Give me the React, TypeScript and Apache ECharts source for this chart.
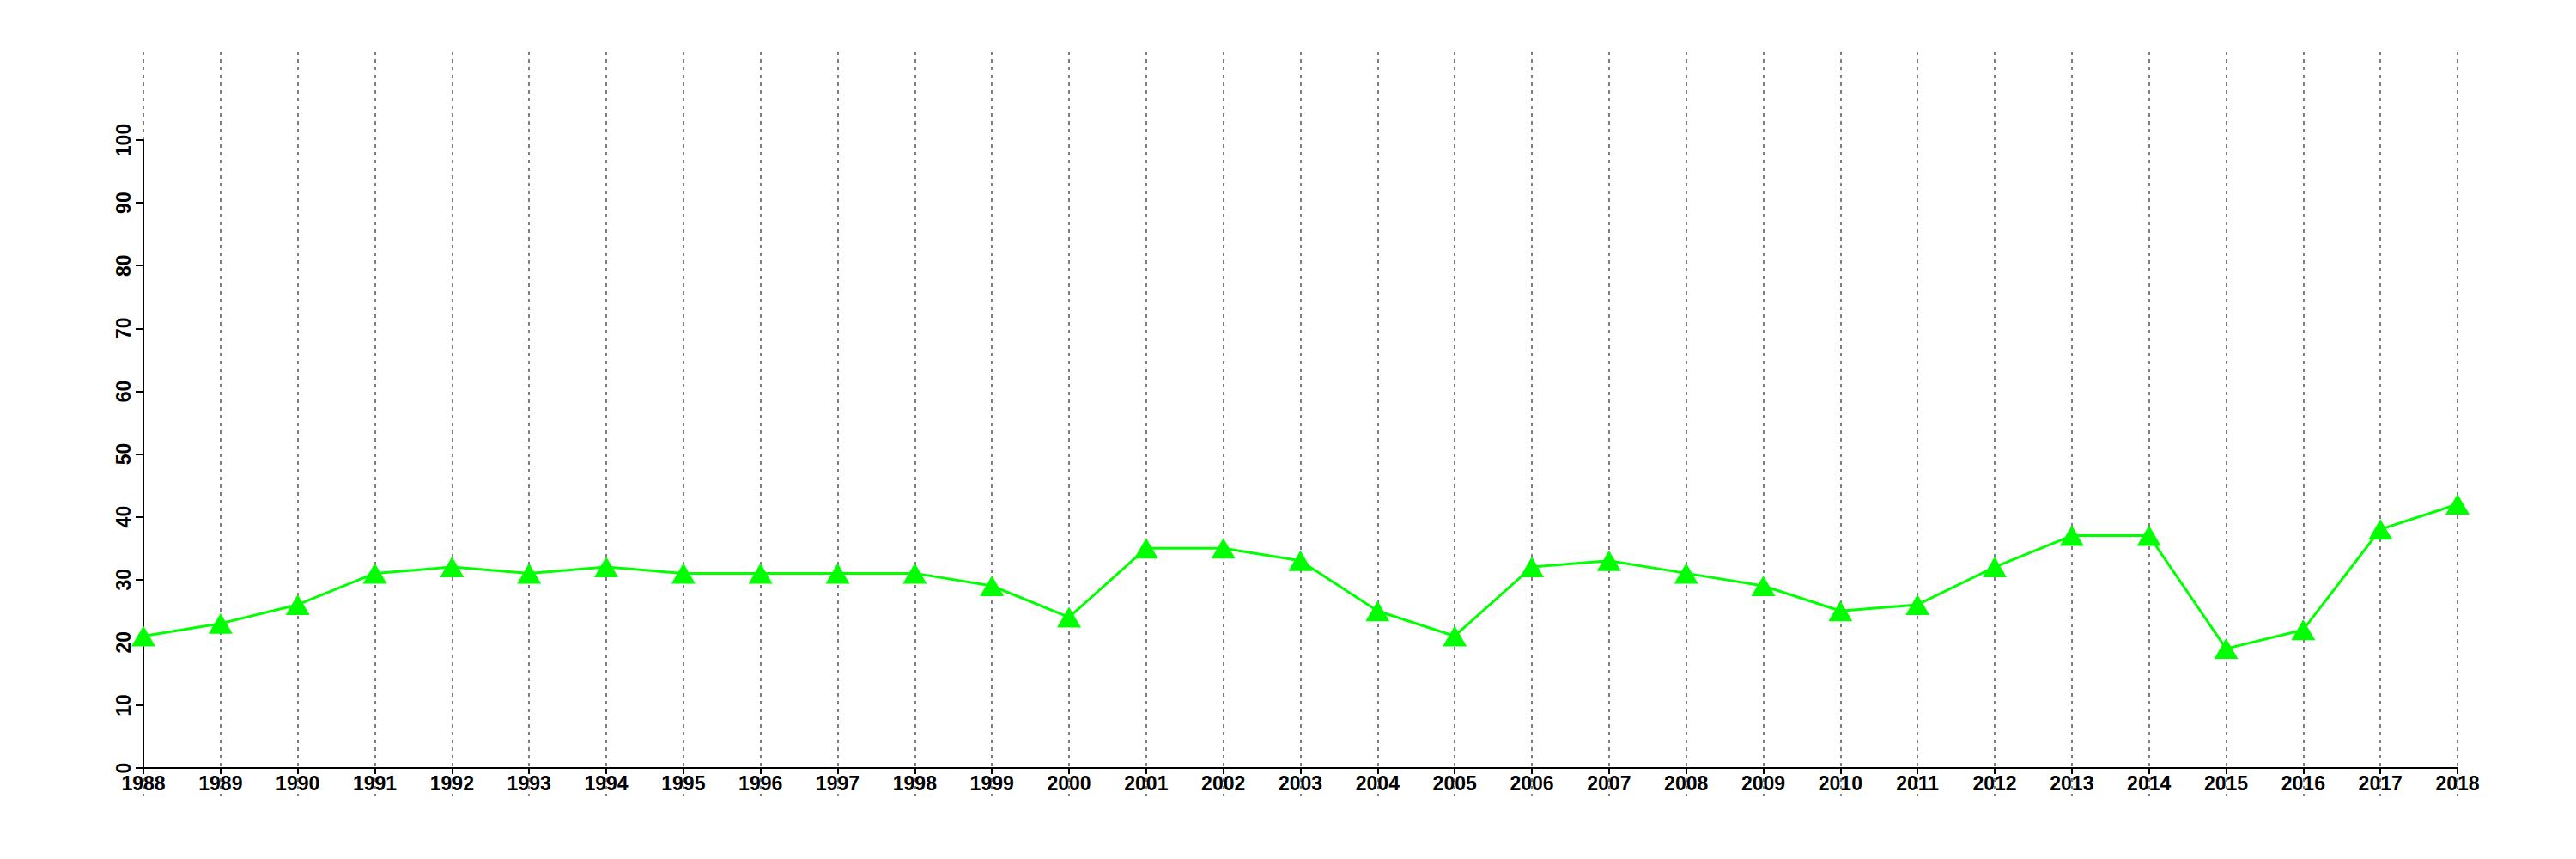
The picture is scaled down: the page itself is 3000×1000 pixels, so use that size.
import React, { useEffect, useRef } from "react";
import * as echarts from "echarts";

const years = [
  "1988","1989","1990","1991","1992","1993","1994","1995","1996","1997","1998",
  "1999","2000","2001","2002","2003","2004","2005","2006","2007","2008","2009",
  "2010","2011","2012","2013","2014","2015","2016","2017","2018",
];
const values = [
  21, 23, 26, 31, 32, 31, 32, 31, 31, 31, 31,
  29, 24, 35, 35, 33, 25, 21, 32, 33, 31, 29,
  25, 26, 32, 37, 37, 19, 22, 38, 42,
];

const FONT = "'Liberation Sans', Arial, Helvetica, sans-serif";

export default function App() {
  const ref = useRef<HTMLDivElement>(null);
  useEffect(() => {
    if (!ref.current) return;
    const chart = echarts.init(ref.current, null, { renderer: "svg" });
    chart.setOption({
      animation: false,
      backgroundColor: "#ffffff",
      grid: [
        { left: 167, right: 138, top: 163, bottom: 106, containLabel: false },
        { left: 167, right: 138, top: 60, bottom: 73, containLabel: false },
      ],
      xAxis: [
        {
          type: "category",
          gridIndex: 0,
          data: years,
          boundaryGap: false,
          axisLine: { show: true, lineStyle: { color: "#000", width: 2 } },
          axisTick: { show: true, length: 7, inside: false, alignWithLabel: true, lineStyle: { color: "#000", width: 2 } },
          axisLabel: {
            show: true,
            interval: 0,
            color: "#000",
            fontFamily: FONT,
            fontWeight: "bold",
            fontSize: 23,
            margin: 6,
          },
          splitLine: { show: false },
          z: 3,
        },
        {
          type: "category",
          gridIndex: 1,
          data: years,
          boundaryGap: false,
          axisLine: { show: false },
          axisTick: { show: false },
          axisLabel: { show: false },
          splitLine: {
            show: true,
            interval: 0,
            lineStyle: { color: "#7f7f7f", width: 2, type: [4, 5] },
          },
          z: 0,
        },
      ],
      yAxis: [
        {
          type: "value",
          gridIndex: 0,
          min: 0,
          max: 100,
          interval: 10,
          axisLine: { show: true, lineStyle: { color: "#000", width: 2 } },
          axisTick: { show: true, length: 9, lineStyle: { color: "#000", width: 2 } },
          axisLabel: {
            show: true,
            rotate: 90,
            color: "#000",
            fontFamily: FONT,
            fontWeight: "bold",
            fontSize: 23,
            margin: 12,
          },
          splitLine: { show: false },
          z: 3,
        },
        {
          type: "value",
          gridIndex: 1,
          min: 0,
          max: 1,
          show: false,
          splitLine: { show: false },
        },
      ],
      series: [
        {
          type: "line",
          xAxisIndex: 0,
          yAxisIndex: 0,
          data: values,
          symbol: "triangle",
          symbolSize: [28, 24],
          showAllSymbol: true,
          lineStyle: { color: "#00ff00", width: 3 },
          itemStyle: { color: "#00ff00", borderWidth: 0 },
          emphasis: { disabled: true },
          z: 5,
        },
      ],
    });
    return () => chart.dispose();
  }, []);
  return (
    <div
      ref={ref}
      style={{ position: "absolute", left: 0, top: 0, width: 3000, height: 1000 }}
    />
  );
}
